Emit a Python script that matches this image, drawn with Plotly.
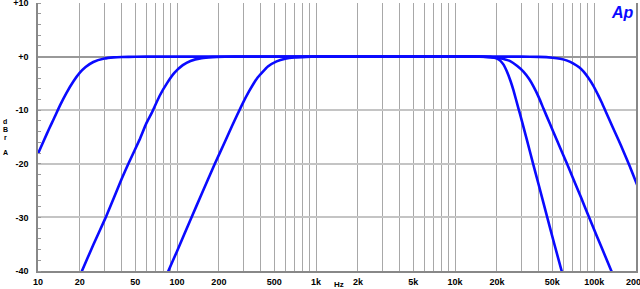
import plotly.graph_objects as go

# Frequencies (Hz) and levels (dBr A), one list per curve
freq_a = [10, 11, 12, 13, 14.4, 16, 18, 20, 22, 25, 30, 35, 40, 50, 70, 1000, 10000, 30000,
          40000, 50000, 57000, 64000, 71000, 78000, 84000, 91000, 99000, 106000, 113600,
          120000, 135000, 150000, 162000, 180000, 200000, 220000]
db_a = [-18.1, -15.7, -13.5, -11.6, -9.1, -6.8, -4.6, -3.0, -1.94, -1.0, -0.37, -0.15, -0.07,
        -0.02, 0, 0, 0, 0,
        -0.05, -0.2, -0.4, -0.75, -1.3, -2.0, -2.8, -4.0, -5.5, -7.0, -8.6,
        -10.0, -13.0, -15.6, -17.6, -20.4, -23.4, -26.0]

freq_b = [18, 20.7, 25, 30.7, 40, 45, 54.2, 60, 65.8, 75, 85, 96, 110, 125, 150, 180, 220, 300,
          1000, 10000, 16000, 18000, 20000, 22000, 24900, 28000, 31000, 34000, 36600, 40000, 43200,
          48000, 54000, 59600, 63600, 70000, 80000, 91000, 105000, 120000, 133000, 150000]
db_b = [-43.6, -40.0, -35.1, -30.0, -22.8, -19.8, -15.3, -12.5, -10.5, -7.3, -4.9, -3.0, -1.6,
        -0.81, -0.29, -0.1, -0.03, 0, 0, 0, -0.03, -0.1, -0.2, -0.42, -0.85, -1.75, -2.8, -4.15,
        -5.55, -7.6, -9.7, -12.5, -15.6, -18.2, -19.9, -22.5, -26.1, -29.7, -33.6, -37.2,
        -40.0, -43.3]

freq_c = [70, 86.6, 100, 127, 150, 187, 221, 250, 292, 330, 380, 450, 520, 600, 700, 850, 1000,
          10000, 15000, 18000, 20000, 21100, 22300, 23500, 25000, 26300, 28500, 30000, 32800,
          36400, 40000, 46000, 52000, 58400, 65000]
db_c = [-45.5, -40.0, -36.3, -30.0, -25.7, -20.0, -15.9, -12.8, -9.1, -6.45, -3.9, -1.85, -0.88,
        -0.39, -0.16, -0.05, 0, 0, 0, -0.1, -0.35, -0.75, -1.5, -2.7, -4.5, -6.3, -9.6, -11.7,
        -15.5, -20.0, -24.0, -30.0, -35.2, -40.0, -44.5]

# Axis ticks
grid_freqs = [m * 10 ** e for e in range(1, 6) for m in range(1, 10) if m * 10 ** e <= 200000] + [200000]
label_map = {10: "10", 20: "20", 50: "50", 100: "100", 200: "200", 500: "500",
             1000: "1k", 2000: "2k", 5000: "5k", 10000: "10k", 20000: "20k",
             50000: "50k", 100000: "100k", 200000: "200k"}
x_ticktext = [label_map.get(f, "") for f in grid_freqs]
y_tickvals = [-40, -30, -20, -10, 0, 10]
y_ticktext = ["-40", "-30", "-20", "-10", "+0", "+10"]

fig = go.Figure()
for fx, dy in [(freq_a, db_a), (freq_b, db_b), (freq_c, db_c)]:
    fig.add_trace(go.Scatter(x=fx, y=dy, mode="lines",
                             line=dict(color="#0a0aff", width=2.6, shape="spline", smoothing=0.4),
                             showlegend=False, hoverinfo="skip"))

tick_font = dict(family="Liberation Sans, Arial, sans-serif", size=9, color="black", weight="bold")

fig.update_layout(
    width=640, height=289,
    margin=dict(l=38, r=4, t=3, b=18),
    paper_bgcolor="white", plot_bgcolor="white",
    xaxis=dict(type="log", range=[1, 5.30103], tickvals=grid_freqs, ticktext=x_ticktext,
               showgrid=True, gridcolor="#a8a8a8", gridwidth=1.2,
               showline=True, linecolor="#888888", linewidth=1.5, mirror=False,
               ticks="", tickfont=tick_font, ticklabelstandoff=1, zeroline=False,
               ticklabeloverflow="allow", automargin=False),
    yaxis=dict(range=[-40, 10], tickvals=y_tickvals, ticktext=y_ticktext,
               showgrid=True, gridcolor="#c4c4c4", gridwidth=1.5,
               zeroline=True, zerolinecolor="#999999", zerolinewidth=1.5,
               showline=True, linecolor="#888888", linewidth=1.5, mirror=True,
               ticks="", tickfont=tick_font, ticklabelstandoff=6,
               ticklabeloverflow="allow", automargin=False,
               minor=dict(dtick=2, ticks="inside", ticklen=3, tickcolor="#999999", showgrid=False)),
)

ann_font = dict(family="Liberation Sans, Arial, sans-serif", size=8, color="black", weight="bold")
fig.add_annotation(text="Hz", xref="paper", yref="paper", x=0.503, y=0, yshift=-13,
                   showarrow=False, font=ann_font, xanchor="center", yanchor="middle")
small_font = dict(family="Liberation Sans, Arial, sans-serif", size=7, color="black", weight="bold")
for letter, yv in [("d", -12.1), ("B", -13.6), ("r", -15.1), ("A", -17.8)]:
    fig.add_annotation(text=letter, xref="paper", yref="y", x=-0.055, y=yv,
                       showarrow=False, font=small_font, xanchor="center", yanchor="middle",
                       borderpad=0)
fig.add_annotation(text="<i>Ap</i>", xref="paper", yref="y", x=0.977, y=8.3,
                   showarrow=False, xanchor="center", yanchor="middle",
                   font=dict(family="Liberation Sans, Arial, sans-serif", size=16,
                             color="#0a0aff", weight="bold"))

fig.write_html("out.html")
